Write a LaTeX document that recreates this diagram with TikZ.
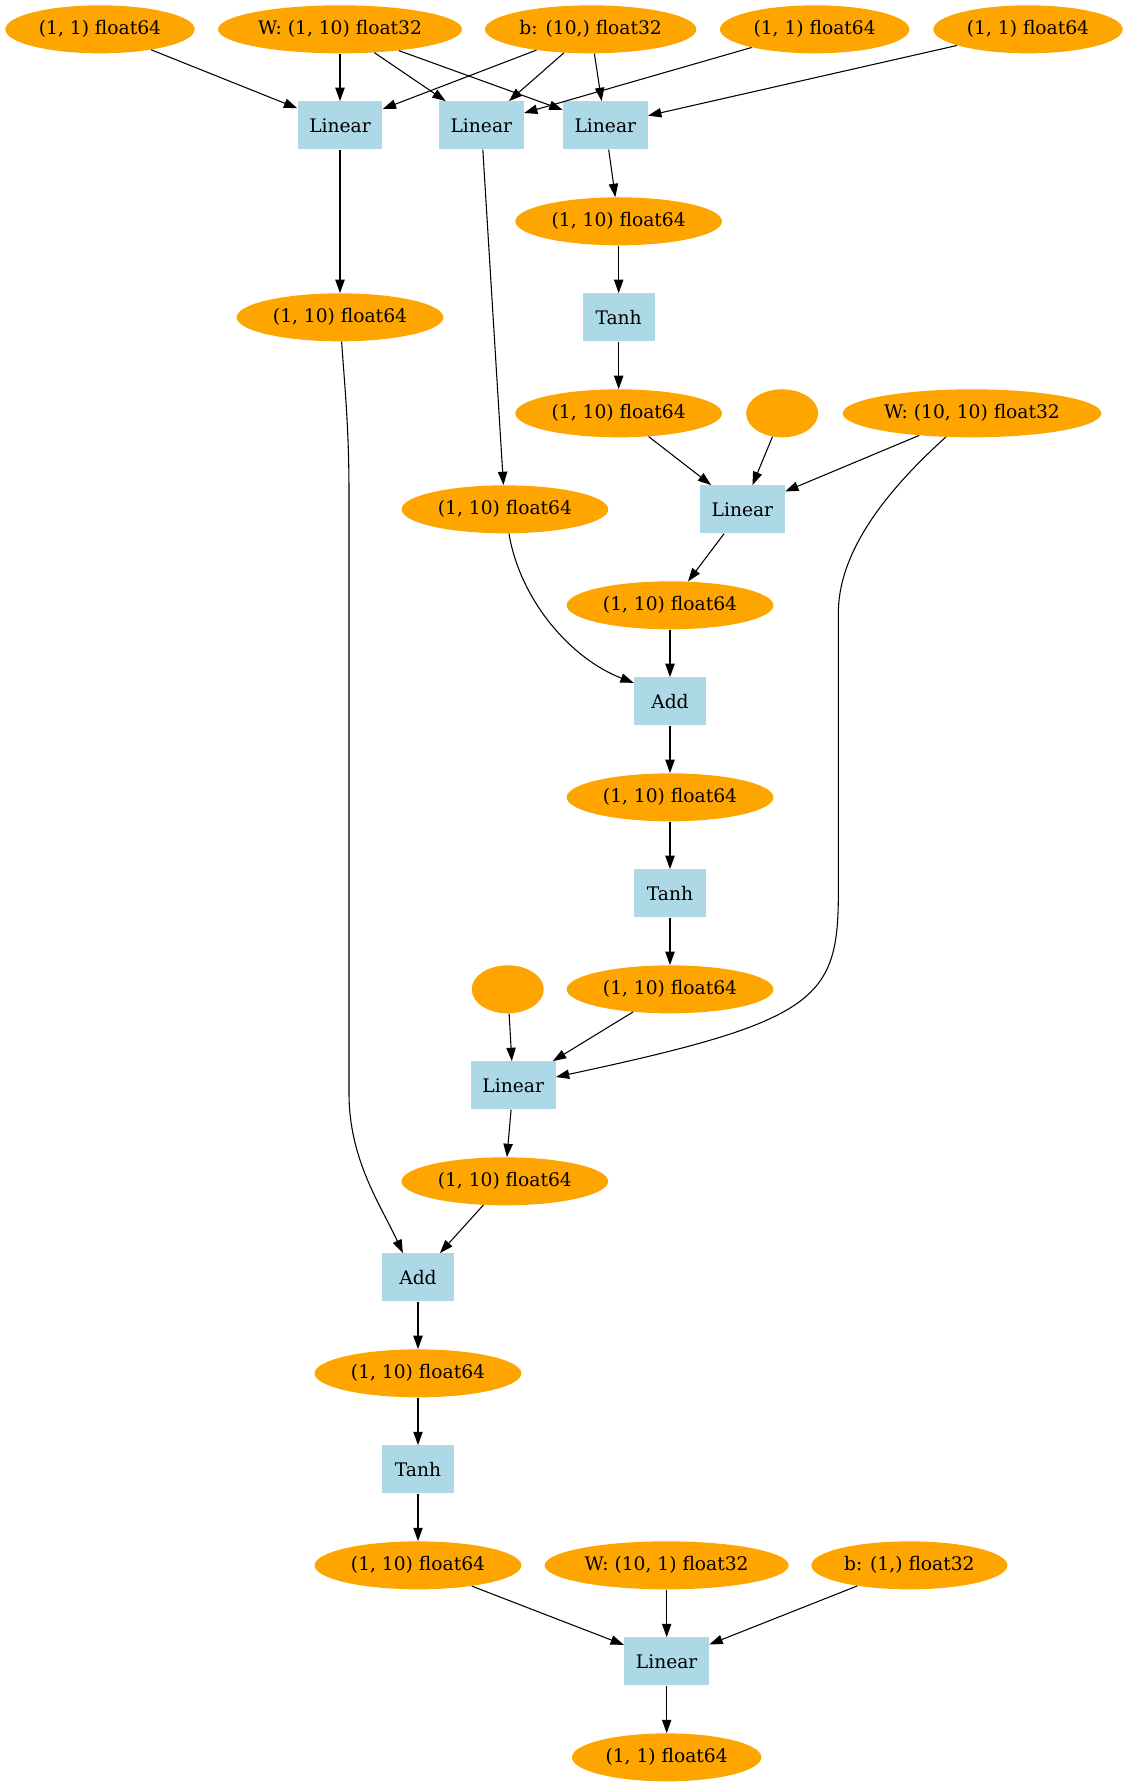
\documentclass[tikz,border=0pt]{standalone}
\usepackage{fontspec}
\setmainfont{DejaVu Serif}
\usetikzlibrary{shapes.geometric, arrows.meta}
\definecolor{tensorc}{HTML}{FFA500}
\definecolor{opc}{HTML}{ADD8E6}

\begin{document}
\begin{tikzpicture}[x=1pt, y=-1pt,
  font=\fontsize{14}{16.8}\selectfont,
  tensor/.style={ellipse, fill=tensorc, inner sep=0pt, minimum height=36pt, minimum width=#1},
  op/.style={rectangle, fill=opc, inner sep=0pt, minimum height=36pt, minimum width=#1},
  edge/.style={-{Triangle[length=10pt,width=7pt]}, line width=0.8pt},
]
\useasboundingbox (0,0) rectangle (846,1340.25);

% inputs and parameters of the first layer
\node[tensor=142pt]   (a0) at (75,22)  {(1, 1) float64};
\node[tensor=183pt]   (a1) at (255,22) {W: (1, 10) float32};
\node[tensor=158.5pt] (a2) at (443,22) {b: (10,) float32};
\node[tensor=142pt]   (a3) at (611,22) {(1, 1) float64};
\node[tensor=142pt]   (a4) at (771,22) {(1, 1) float64};

\node[op=63.7pt] (l1) at (255,94) {Linear};
\node[op=63.7pt] (l2) at (361,94) {Linear};
\node[op=63.7pt] (l3) at (454,94) {Linear};

\node[tensor=155pt] (o3) at (464,166) {(1, 10) float64};
\node[tensor=155pt] (o1) at (255,238) {(1, 10) float64};
\node[op=54pt]      (t1) at (464,238) {Tanh};

% recurrent step 1
\node[tensor=155pt] (h1) at (464,310)   {(1, 10) float64};
\node[tensor=54pt]  (e1) at (586.6,310) {};
\node[tensor=194pt] (w2) at (729,310)   {W: (10, 10) float32};

\node[tensor=155pt] (o2) at (378.7,382) {(1, 10) float64};
\node[op=63.7pt]    (l4) at (556.8,382) {Linear};
\node[tensor=155pt] (o4) at (502.5,454) {(1, 10) float64};
\node[op=54pt]      (add1) at (502.5,526) {Add};
\node[tensor=155pt] (o5) at (502.5,598) {(1, 10) float64};
\node[op=54pt]      (t2) at (502.5,670) {Tanh};

% recurrent step 2
\node[tensor=155pt] (o6) at (502.5,742) {(1, 10) float64};
\node[tensor=54pt]  (e2) at (380.8,742) {};
\node[op=63.7pt]    (l5) at (384.9,814) {Linear};
\node[tensor=155pt] (o7) at (378.6,886) {(1, 10) float64};
\node[op=54pt]      (add2) at (313.5,958) {Add};
\node[tensor=155pt] (o8) at (313.5,1030) {(1, 10) float64};
\node[op=54pt]      (t3) at (313.5,1102) {Tanh};

% output layer
\node[tensor=155pt] (o9) at (313.5,1174) {(1, 10) float64};
\node[tensor=183pt] (w3) at (500,1174)   {W: (10, 1) float32};
\node[tensor=147pt] (b3) at (682,1174)   {b: (1,) float32};
\node[op=63.7pt]    (l6) at (500,1246)   {Linear};
\node[tensor=142pt] (out) at (500,1318)  {(1, 1) float64};

% first layer wiring
\draw[edge] (a0) -- (l1);
\draw[edge] (a1) -- (l1);
\draw[edge] (a2) -- (l1);
\draw[edge] (a1) -- (l2);
\draw[edge] (a2) -- (l2);
\draw[edge] (a3) -- (l2);
\draw[edge] (a1) -- (l3);
\draw[edge] (a2) -- (l3);
\draw[edge] (a4) -- (l3);

\draw[edge] (l1) -- (o1);
\draw[edge] (l2) -- (o2);
\draw[edge] (l3) -- (o3);
\draw[edge] (o3) -- (t1);
\draw[edge] (t1) -- (h1);

\draw[edge] (h1) -- (l4);
\draw[edge] (e1) -- (l4);
\draw[edge] (w2) -- (l4);

% shared weight routed down to the second recurrent step
\draw[edge] (w2) .. controls (670.5,363) and (628.75,410) .. (628.75,460)
  -- (628.75,670) .. controls (628.75,750) and (611.9,766.1) .. (l5.11);

\draw[edge] (l4) -- (o4);
\draw[edge] (o2) .. controls (390,450) and (428,494) .. (add1.153);
\draw[edge] (o4) -- (add1);
\draw[edge] (add1) -- (o5);
\draw[edge] (o5) -- (t2);
\draw[edge] (t2) -- (o6);

\draw[edge] (o6) -- (l5);
\draw[edge] (e2) -- (l5);
\draw[edge] (l5) -- (o7);

% long skip into the second Add
\draw[edge] (o1) .. controls (258.5,290) and (261.75,320) .. (261.75,370)
  -- (261.75,820) .. controls (261.75,870) and (285.7,904) .. (add2.122);
\draw[edge] (o7) -- (add2);
\draw[edge] (add2) -- (o8);
\draw[edge] (o8) -- (t3);
\draw[edge] (t3) -- (o9);

\draw[edge] (o9) -- (l6);
\draw[edge] (w3) -- (l6);
\draw[edge] (b3) -- (l6);
\draw[edge] (l6) -- (out);
\end{tikzpicture}
\end{document}
